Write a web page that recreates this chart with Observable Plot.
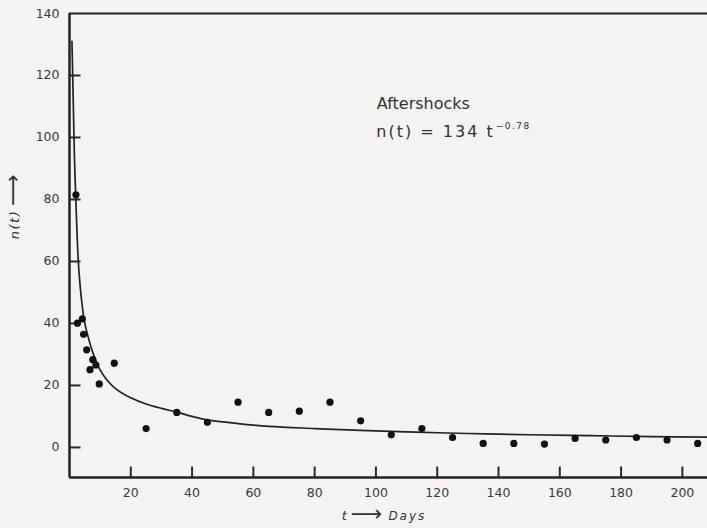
<!DOCTYPE html>
<html><head><meta charset="utf-8">
<script src="https://cdn.jsdelivr.net/npm/d3@7"></script>
<script src="https://cdn.jsdelivr.net/npm/@observablehq/plot@0.6"></script>
<style>
body{margin:0;background:#f3f3f1}
svg{display:block}
</style>
</head><body><div id="chart"></div>
<script>
// Observed aftershock counts (days after main shock, count)
const obsDays  = [2.1, 2.6, 4.2, 4.6, 5.6, 6.7, 7.6, 8.6, 9.7, 14.6, 25, 35, 45, 55, 65, 75, 85, 95, 105, 115, 125, 135, 145, 155, 165, 175, 185, 195, 205];
const obsCount = [81.5, 40.1, 41.5, 36.5, 31.5, 25.1, 28.3, 26.6, 20.5, 27.2, 6.1, 11.3, 8.1, 14.6, 11.3, 11.7, 14.6, 8.6, 4.1, 6.1, 3.2, 1.3, 1.3, 1.1, 2.9, 2.4, 3.2, 2.4, 1.3];
// Fitted curve n(t) = 134 t^-0.78
const fitDays  = [0.8, 1.0, 1.3, 1.6, 2, 2.5, 3, 4, 5, 6, 7, 8, 10, 12, 15, 20, 25, 30, 35, 40, 45, 55, 65, 80, 95, 110, 130, 150, 170, 190, 208];
const fitCount = [131, 122, 108, 94, 82, 68, 58, 47, 40, 36, 32.5, 29.5, 25, 22, 19, 16, 14, 12.6, 11.4, 10, 8.9, 7.7, 6.8, 6.1, 5.5, 5.0, 4.5, 4.1, 3.8, 3.5, 3.3];
const xTicks = [20, 40, 60, 80, 100, 120, 140, 160, 180, 200];
const yTicks = [0, 20, 40, 60, 80, 100, 120, 140];
const xMax = 208.2, yMin = -9.7, yMax = 140;

const obs = obsDays.map((t, i) => ({t, n: obsCount[i]}));
const fit = fitDays.map((t, i) => ({t, n: fitCount[i]}));

const ink = "#222";
const font = "DejaVu Sans, sans-serif";
const pxX = 707 - 69, pxY = 528 - 13 - 51;
const tickLenX = 11 * xMax / pxX;            // inward y-axis tick length, in days
const tickLenY = 11 * (yMax - yMin) / pxY;   // inward x-axis tick length, in counts
const yTickMarks = yTicks.filter(v => v < yMax).map(v => ({v, a: 0, b: tickLenX}));
const xTickMarks = xTicks.map(v => ({v, a: yMin, b: yMin + tickLenY}));

const plot = Plot.plot({
  width: 707, height: 528,
  marginLeft: 69, marginRight: 0, marginTop: 13, marginBottom: 51,
  style: {background: "transparent", fontFamily: font, fontSize: "12px", color: "#3a3a3a"},
  x: {domain: [0, xMax]},
  y: {domain: [yMin, yMax]},
  marks: [
    Plot.axisY(yTicks, {anchor: "left", tickSize: 0, tickPadding: 10, label: null, fontSize: 12.5, letterSpacing: "2px", fill: "#3a3a3a"}),
    Plot.link(yTickMarks, {x1: "a", x2: "b", y1: "v", y2: "v", stroke: "#2a2a2a", strokeWidth: 2}),
    Plot.axisX(xTicks, {anchor: "bottom", tickSize: 0, tickPadding: 11, label: null, fontSize: 12.5, letterSpacing: "2px", fill: "#3a3a3a"}),
    Plot.link(xTickMarks, {x1: "v", x2: "v", y1: "a", y2: "b", stroke: "#2a2a2a", strokeWidth: 2}),
    Plot.ruleX([0], {stroke: ink, strokeWidth: 2.5}),
    Plot.ruleY([yMin], {stroke: ink, strokeWidth: 2.5}),
    Plot.ruleY([yMax], {stroke: ink, strokeWidth: 2}),
    Plot.line(fit, {x: "t", y: "n", curve: "catmull-rom", stroke: ink, strokeWidth: 1.7}),
    Plot.dot(obs, {x: "t", y: "n", r: 3.6, fill: "#111", stroke: "none"}),
    Plot.text(["Aftershocks"], {x: 100.3, y: 111, text: d => d, textAnchor: "start", fontSize: 16, fill: "#333", letterSpacing: "2.2px"})
  ]
});
document.getElementById("chart").appendChild(plot);

const svg = d3.select(plot);
const sx = plot.scale("x"), sy = plot.scale("y");

// Equation with superscript exponent
const eq = svg.append("text")
  .attr("x", sx.apply(100.3)).attr("y", sy.apply(100))
  .attr("text-anchor", "start")
  .attr("font-family", font).attr("font-size", 16)
  .attr("fill", "#333").attr("letter-spacing", "2px");
eq.append("tspan").text("n(t) = 134 t");
eq.append("tspan").attr("font-size", 9).attr("dx", 1).attr("dy", -8).attr("letter-spacing", "1.5px").text("−0.78");

// Y axis label: n(t) with upward arrow
const yl = svg.append("text")
  .attr("transform", `translate(19,${sy.apply(67)}) rotate(-90)`)
  .attr("text-anchor", "start")
  .attr("font-family", font).attr("font-size", 13)
  .attr("fill", "#333").attr("letter-spacing", "1.5px");
yl.append("tspan").attr("font-style", "italic").text("n(t)");
yl.append("tspan").attr("dx", 4).attr("font-size", 22).attr("dy", 1).text("⟶");

// X axis label: t -> Days
const xl = svg.append("text")
  .attr("x", sx.apply(89)).attr("y", 520)
  .attr("text-anchor", "start")
  .attr("font-family", font).attr("font-size", 13)
  .attr("fill", "#333");
xl.append("tspan").attr("font-style", "italic").text("t");
xl.append("tspan").attr("dx", 4).attr("font-size", 22).attr("dy", 1).text("⟶");
xl.append("tspan").attr("dx", 6).attr("dy", -1).attr("font-style", "italic").attr("letter-spacing", "2px").attr("font-size", 12).text("Days");
</script>
</body></html>
